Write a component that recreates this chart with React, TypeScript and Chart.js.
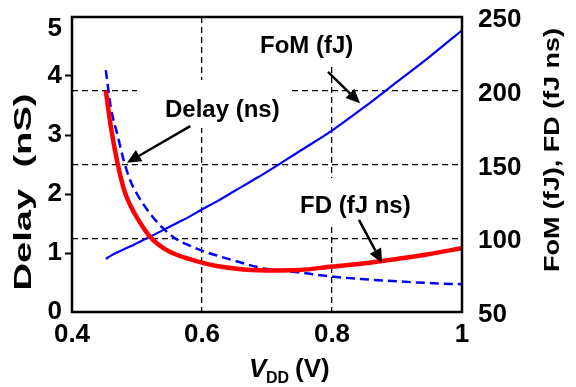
import React, { useEffect, useRef } from 'react';
import { Chart, registerables } from 'chart.js';

Chart.register(...registerables);

// ---------------- data ----------------
const VDD = [0.452, 0.46, 0.47, 0.48, 0.49, 0.5, 0.52, 0.54, 0.56, 0.58, 0.6, 0.625, 0.65, 0.675, 0.7, 0.75, 0.8, 0.85, 0.9, 0.95, 1.0];
const DELAY_NS = [4.1, 3.45, 3.0, 2.55, 2.22, 2.0, 1.67, 1.42, 1.24, 1.13, 1.04, 0.95, 0.87, 0.79, 0.73, 0.67, 0.6, 0.555, 0.52, 0.49, 0.47];
const FD_FJNS = [200, 175, 151, 133, 122, 114, 101, 93.5, 89, 86, 83.5, 81, 79.5, 78.5, 78.2, 78.5, 80.8, 83, 86, 89.3, 93.3];
const FOM_FJ = [86, 88.2, 90.5, 92.5, 94.5, 96.7, 101, 105.5, 110, 114.5, 119.5, 125.5, 132, 138.5, 145, 159, 173, 189, 206, 223, 241];

const X_RANGE = [0.4, 1.0];
const LEFT_RANGE = [0, 5];
const RIGHT_RANGE = [50, 250];
const GRID_X = [0.6, 0.8];
const GRID_RIGHT = [100, 150, 200];
const LEFT_TICK_MARKS = [1, 2, 3, 4];

// arrows in data units (x: VDD, y: left axis)
const ARROWS = [
  { from: [0.582, 3.15], to: [0.4846, 2.53] },
  { from: [0.7938, 4.07], to: [0.843, 3.54] },
  { from: [0.8415, 1.56], to: [0.877, 0.83] },
];

const LABELS = [
  { text: 'Delay (ns)', x: 165, y: 117 },
  { text: 'FoM (fJ)', x: 260, y: 53 },
  { text: 'FD (fJ ns)', x: 300, y: 213 },
];
const LABEL_BOXES = [
  { x: 137, y: 80, w: 151, h: 48 },
  { x: 250, y: 18, w: 115, h: 49 },
  { x: 290, y: 178, w: 140, h: 45 },
];

const FONT = "'Liberation Sans', Arial, Helvetica, sans-serif";

const near = (a: number, list: number[]) => list.some((v) => Math.abs(v - a) < 1e-6);

const decor = {
  id: 'decor',
  beforeDatasetsDraw(chart: any) {
    const { ctx } = chart;
    ctx.save();
    ctx.fillStyle = '#ffffff';
    for (const b of LABEL_BOXES) ctx.fillRect(b.x, b.y, b.w, b.h);
    ctx.restore();
  },
  afterDatasetsDraw(chart: any) {
    const { ctx, chartArea } = chart;
    const xs = chart.scales.x;
    const ys = chart.scales.y;
    ctx.save();
    // frame
    ctx.strokeStyle = '#000';
    ctx.lineWidth = 2.5;
    ctx.strokeRect(chartArea.left, chartArea.top, chartArea.right - chartArea.left, chartArea.bottom - chartArea.top);
    // arrows
    ctx.fillStyle = '#000';
    ctx.lineWidth = 2.5;
    for (const a of ARROWS) {
      const x1 = xs.getPixelForValue(a.from[0]);
      const y1 = ys.getPixelForValue(a.from[1]);
      const x2 = xs.getPixelForValue(a.to[0]);
      const y2 = ys.getPixelForValue(a.to[1]);
      const ang = Math.atan2(y2 - y1, x2 - x1);
      const hl = 14;
      const hw = 6.5;
      const bx = x2 - hl * Math.cos(ang);
      const by = y2 - hl * Math.sin(ang);
      ctx.beginPath();
      ctx.moveTo(x1, y1);
      ctx.lineTo(bx, by);
      ctx.stroke();
      ctx.beginPath();
      ctx.moveTo(x2, y2);
      ctx.lineTo(bx + hw * Math.sin(ang), by - hw * Math.cos(ang));
      ctx.lineTo(bx - hw * Math.sin(ang), by + hw * Math.cos(ang));
      ctx.closePath();
      ctx.fill();
    }
    // labels
    ctx.font = `bold 24px ${FONT}`;
    ctx.textAlign = 'left';
    ctx.textBaseline = 'alphabetic';
    for (const l of LABELS) ctx.fillText(l.text, l.x, l.y);
    ctx.restore();
  },
  afterDraw(chart: any) {
    const { ctx } = chart;
    ctx.save();
    ctx.fillStyle = '#000';
    ctx.textBaseline = 'middle';
    ctx.textAlign = 'center';
    // left title
    ctx.font = `bold 23px ${FONT}`;
    const lt = 'Delay  (nS)';
    const lw = ctx.measureText(lt).width;
    ctx.save();
    ctx.translate(25, 192);
    ctx.rotate(-Math.PI / 2);
    ctx.scale(197 / lw, 1);
    ctx.fillText(lt, 0, 0);
    ctx.restore();
    // right title
    ctx.font = `bold 22px ${FONT}`;
    const rt = 'FoM (fJ), FD (fJ ns)';
    const rw = ctx.measureText(rt).width;
    ctx.save();
    ctx.translate(553, 150);
    ctx.rotate(-Math.PI / 2);
    ctx.scale(244 / rw, 1);
    ctx.fillText(rt, 0, 0);
    ctx.restore();
    // x title
    ctx.textAlign = 'left';
    ctx.textBaseline = 'alphabetic';
    ctx.font = `italic bold 26px ${FONT}`;
    ctx.fillText('V', 249, 377);
    ctx.font = `bold 16px ${FONT}`;
    ctx.fillText('DD', 266, 383);
    ctx.font = `bold 26px ${FONT}`;
    ctx.fillText('(V)', 295, 377);
    ctx.restore();
  },
};

export default function App() {
  const ref = useRef<HTMLCanvasElement | null>(null);
  useEffect(() => {
    document.body.style.margin = '0';
    const canvas = ref.current;
    if (!canvas) return;
    const tickFont = { family: FONT, size: 26, weight: 'bold' as const };
    const chart = new Chart(canvas, {
      type: 'line',
      data: {
        datasets: [
          {
            label: 'FD (fJ ns)',
            data: VDD.map((x, i) => ({ x, y: FD_FJNS[i] })),
            yAxisID: 'y1',
            borderColor: '#ff0000',
            borderWidth: 4.5,
            pointRadius: 0,
            cubicInterpolationMode: 'monotone',
            fill: false,
          },
          {
            label: 'Delay (ns)',
            data: VDD.map((x, i) => ({ x, y: DELAY_NS[i] })),
            yAxisID: 'y',
            borderColor: '#0000ff',
            borderWidth: 2.5,
            borderDash: [9, 5],
            pointRadius: 0,
            cubicInterpolationMode: 'monotone',
            fill: false,
          },
          {
            label: 'FoM (fJ)',
            data: VDD.map((x, i) => ({ x, y: FOM_FJ[i] })),
            yAxisID: 'y1',
            borderColor: '#0000ff',
            borderWidth: 2.2,
            pointRadius: 0,
            cubicInterpolationMode: 'monotone',
            fill: false,
          },
        ],
      },
      options: {
        animation: false,
        responsive: false,
        maintainAspectRatio: false,
        events: [],
        layout: { padding: { top: 17, left: 0, right: 0, bottom: 0 } },
        plugins: { legend: { display: false }, tooltip: { enabled: false }, title: { display: false } },
        scales: {
          x: {
            type: 'linear',
            min: X_RANGE[0],
            max: X_RANGE[1],
            ticks: {
              stepSize: 0.2,
              font: tickFont,
              color: '#000',
              padding: 7,
              maxRotation: 0,
              callback: (v: any) => (Math.abs(v - 1) < 1e-6 ? '1' : Number(v).toFixed(1)),
            },
            grid: {
              drawOnChartArea: true,
              drawTicks: false,
              lineWidth: 1.3,
              color: (c: any) => (c.tick && near(c.tick.value, GRID_X) ? '#000' : 'rgba(0,0,0,0)'),
            },
            border: { display: false, dash: [6, 4] },
            afterFit: (s: any) => {
              s.height = 75;
              s.paddingLeft = 0;
              s.paddingRight = 0;
              s.paddingTop = 0;
              s.paddingBottom = 0;
            },
          },
          y: {
            type: 'linear',
            position: 'left',
            min: LEFT_RANGE[0],
            max: LEFT_RANGE[1],
            ticks: {
              stepSize: 1,
              font: { ...tickFont, lineHeight: 0.92 },
              color: '#000',
              padding: 3,
              callback: (v: any) => (v === LEFT_RANGE[1] ? ['', String(v)] : String(v)),
            },
            grid: {
              drawOnChartArea: false,
              drawTicks: true,
              tickLength: 7,
              tickWidth: 2,
              tickColor: (c: any) => (c.tick && near(c.tick.value, LEFT_TICK_MARKS) ? '#000' : 'rgba(0,0,0,0)'),
            },
            border: { display: false },
            afterFit: (s: any) => {
              s.width = 72;
              s.paddingTop = 0;
              s.paddingBottom = 0;
              s.paddingLeft = 0;
              s.paddingRight = 0;
            },
          },
          y1: {
            type: 'linear',
            position: 'right',
            min: RIGHT_RANGE[0],
            max: RIGHT_RANGE[1],
            ticks: {
              stepSize: 50,
              font: tickFont,
              color: '#000',
              padding: 16,
              labelOffset: 3,
            },
            grid: {
              drawOnChartArea: true,
              drawTicks: false,
              lineWidth: 1.3,
              color: (c: any) => (c.tick && near(c.tick.value, GRID_RIGHT) ? '#000' : 'rgba(0,0,0,0)'),
            },
            border: { display: false, dash: [6, 4] },
            afterFit: (s: any) => {
              s.width = 114;
              s.paddingTop = 0;
              s.paddingBottom = 0;
              s.paddingLeft = 0;
              s.paddingRight = 0;
            },
          },
        },
      } as any,
      plugins: [decor],
    });
    return () => chart.destroy();
  }, []);
  return (
    <div style={{ position: 'absolute', left: 0, top: 0, width: 576, height: 387, background: '#fff' }}>
      <canvas ref={ref} width={576} height={387} style={{ display: 'block' }} />
    </div>
  );
}
